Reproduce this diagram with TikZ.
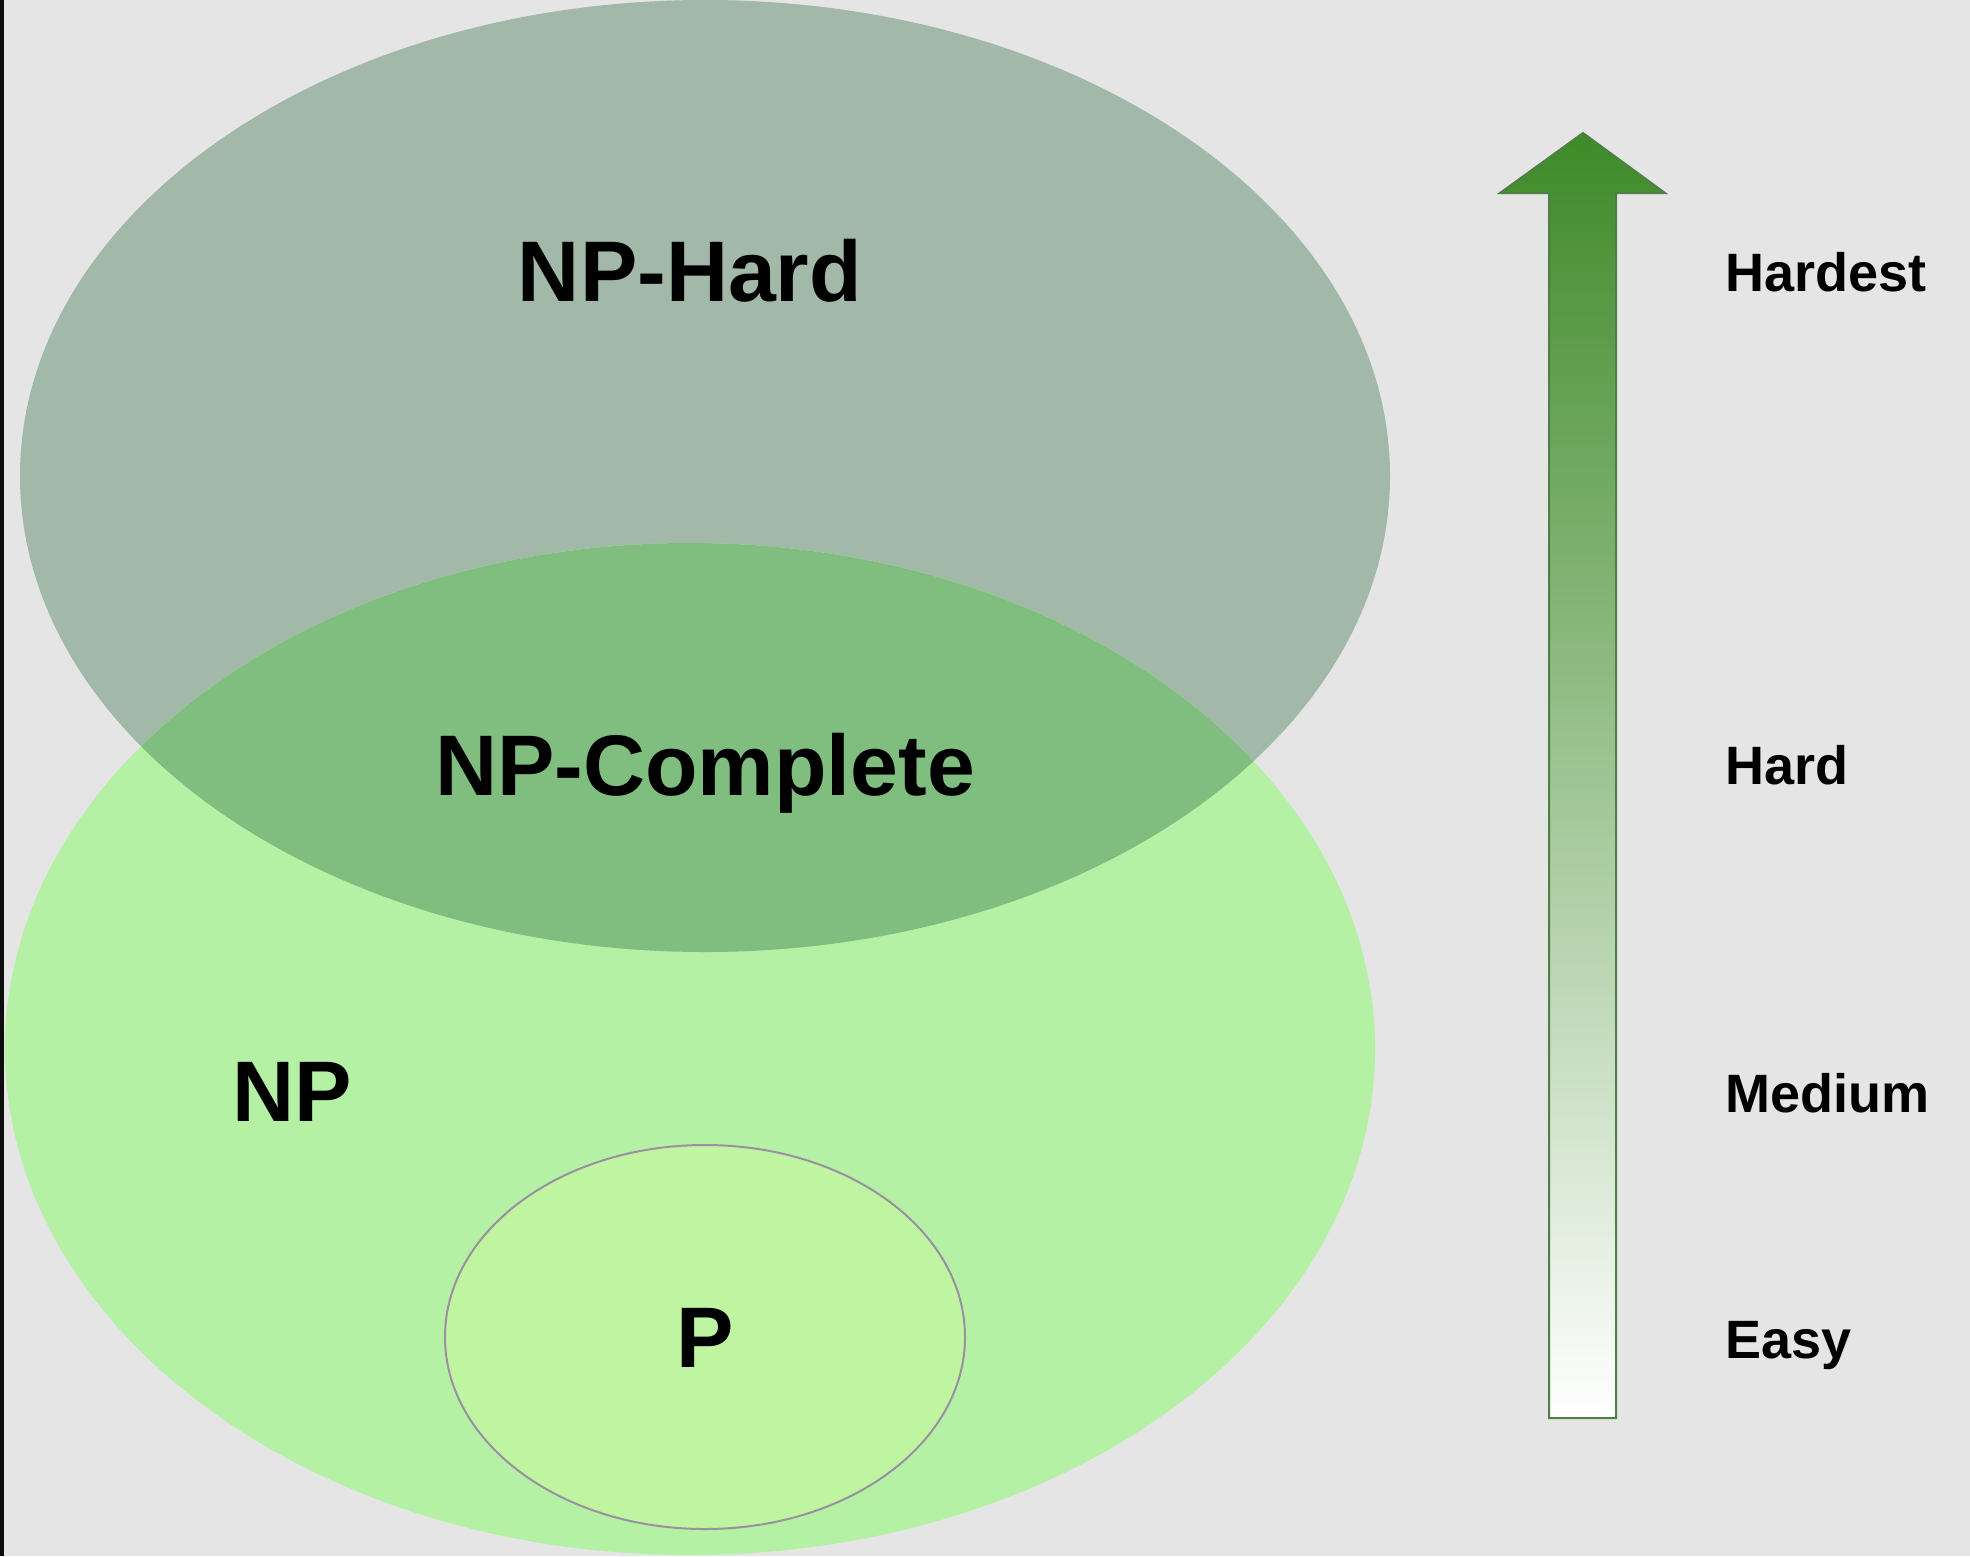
\documentclass[tikz,border=0pt]{standalone}
\usepackage{fontspec}
\setmainfont{Liberation Sans}
\begin{document}
\definecolor{bgcol}{RGB}{229,229,229}
\definecolor{hardcol}{RGB}{162,184,168}
\definecolor{npcol}{RGB}{180,241,164}
\definecolor{bothcol}{RGB}{128,190,127}
\definecolor{pcol}{RGB}{191,245,161}
\definecolor{pline}{RGB}{155,143,160}
\definecolor{arrtop}{RGB}{62,138,40}
\definecolor{arrmid}{RGB}{140,194,124}
\definecolor{arrline}{RGB}{78,127,69}
\begin{tikzpicture}[x=1pt,y=-1pt,
  biglabel/.style={font=\fontsize{86}{100}\selectfont\bfseries, inner sep=0pt},
  scalelabel/.style={font=\fontsize{54}{64}\selectfont\bfseries, inner sep=0pt, anchor=base west}]
  % canvas
  \fill[bgcol] (0,0) rectangle (1970,1556);
  \fill[black!95] (0,0) rectangle (4,1556);
  \useasboundingbox (0,0) rectangle (1970,1556);

  % NP-Hard and NP sets, with their overlap
  \fill[hardcol] (705,476) ellipse [x radius=685, y radius=476];
  \fill[npcol] (690,1049) ellipse [x radius=685, y radius=506];
  \begin{scope}
    \clip (690,1049) ellipse [x radius=685, y radius=506];
    \fill[bothcol] (705,476) ellipse [x radius=685, y radius=476];
  \end{scope}

  % P set
  \filldraw[fill=pcol, draw=pline, line width=2pt] (705,1337) ellipse [x radius=260, y radius=192];

  \node[biglabel, anchor=base] (nphard) at (690,301) {NP-Hard};
  \node[biglabel, anchor=base] (npc) at (705,795) {NP-Complete};
  \node[biglabel, anchor=base] (np) at (292,1121) {NP};
  \node[biglabel, anchor=base] (p) at (705,1367) {P};

  % difficulty arrow
  \path[draw=arrline, line width=2pt, top color=arrtop, middle color=arrmid, bottom color=white]
    (1549,1418) -- (1549,193) -- (1500,193) -- (1583,133) -- (1665,193)
    -- (1616,193) -- (1616,1418) -- cycle;

  \node[scalelabel] (hardest) at (1725,291) {Hardest};
  \node[scalelabel] (hard) at (1725,784) {Hard};
  \node[scalelabel] (medium) at (1725,1112) {Medium};
  \node[scalelabel] (easy) at (1725,1358) {Easy};
\end{tikzpicture}
\end{document}
